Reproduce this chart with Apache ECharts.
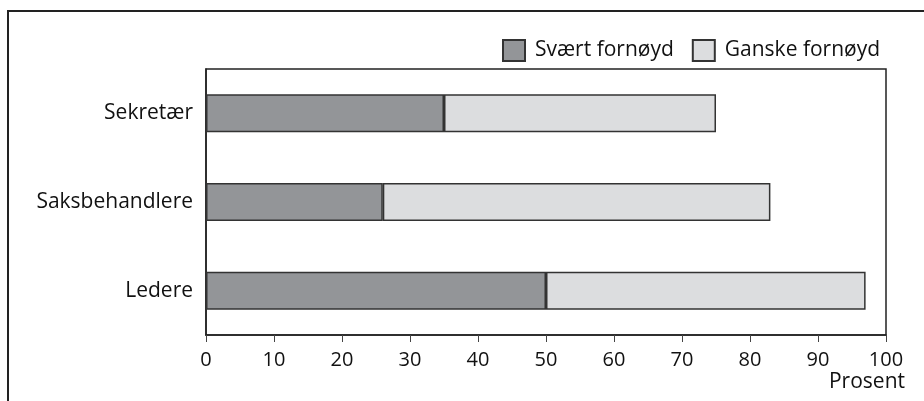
<!DOCTYPE html>
<html>
<head>
<meta charset="utf-8">
<script src="https://cdn.jsdelivr.net/npm/echarts@6/dist/echarts.min.js"></script>
<style>
  html, body { margin: 0; padding: 0; background: #fff; }
  #chart { width: 924px; height: 401px; }
</style>
</head>
<body>
<div id="chart"></div>
<script>
// Job satisfaction by role, percent
const categories = ['Ledere', 'Saksbehandlere', 'Sekretær'];
const svaertFornoyd = [50, 26, 35];
const ganskeFornoyd = [47, 57, 40];
const seriesNames = ['Svært fornøyd', 'Ganske fornøyd'];
const xTicks = { min: 0, max: 100, step: 10 };
const axisTitle = 'Prosent';

const FONT = '"Open Sans", "Noto Sans", sans-serif';
const INK = '#111';

const chart = echarts.init(document.getElementById('chart'), null, { renderer: 'canvas' });

const barStyle = (fill) => ({
  color: fill,
  borderColor: '#333',
  borderWidth: 1.5
});

chart.setOption({
  animation: false,
  backgroundColor: '#fff',
  textStyle: { fontFamily: FONT, color: INK },
  grid: {
    left: 206, right: 38, top: 69, bottom: 66,
    show: true, borderColor: '#222', borderWidth: 1.5, backgroundColor: 'transparent'
  },
  legend: {
    top: 34, left: 497,
    itemWidth: 22, itemHeight: 21, itemGap: 18,
    icon: 'rect',
    textStyle: { fontFamily: FONT, fontSize: 21, color: INK, padding: [0, 0, 0, 5] },
    data: seriesNames
  },
  xAxis: {
    type: 'value',
    min: xTicks.min, max: xTicks.max, interval: xTicks.step,
    axisLine: { show: true, lineStyle: { color: '#222', width: 1.5 } },
    axisTick: { show: true, length: 7, lineStyle: { color: '#444', width: 1 } },
    axisLabel: { fontFamily: FONT, fontSize: 20, color: INK, margin: 15 },
    splitLine: { show: false }
  },
  yAxis: {
    type: 'category',
    data: categories,
    axisLine: { show: true, lineStyle: { color: '#222', width: 1.5 } },
    axisTick: { show: false },
    axisLabel: { fontFamily: FONT, fontSize: 21, color: INK, margin: 13 }
  },
  series: [
    {
      name: seriesNames[0], type: 'bar', stack: 'total',
      barWidth: 38,
      itemStyle: barStyle('#939598'),
      data: svaertFornoyd
    },
    {
      name: seriesNames[1], type: 'bar', stack: 'total',
      barWidth: 38,
      itemStyle: barStyle('#dcdddf'),
      data: ganskeFornoyd
    }
  ],
  graphic: [
    {
      type: 'rect', silent: true,
      shape: { x: 8, y: 11, width: 940, height: 420 },
      style: { fill: 'none', stroke: '#222', lineWidth: 2 }
    },
    {
      type: 'text', right: 19, top: 372,
      style: { text: axisTitle, font: '21px ' + FONT, fill: INK }
    }
  ]
});
</script>
</body>
</html>
